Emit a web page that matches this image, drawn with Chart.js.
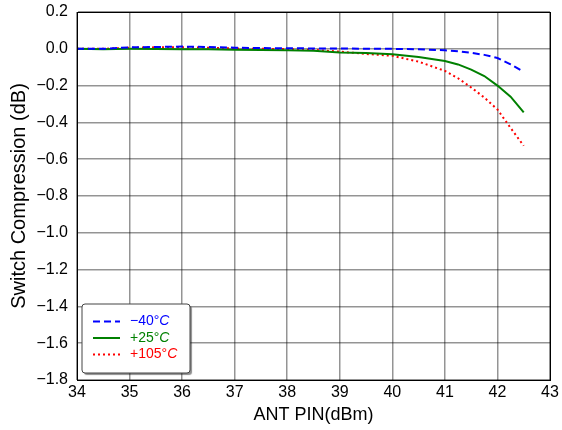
<!DOCTYPE html>
<html>
<head>
<meta charset="utf-8">
<script src="https://cdn.jsdelivr.net/npm/chart.js@4"></script>
<style>
  html, body { margin: 0; padding: 0; background: #fff; }
  #wrap { width: 562px; height: 430px; }
</style>
</head>
<body>
<div id="wrap"><canvas id="chart" width="562" height="430"></canvas></div>
<script>
// input power (dBm)
const pin = [34, 34.5, 35, 35.5, 36, 36.5, 37, 37.5, 38, 38.5, 39, 39.5, 40, 40.5, 41, 41.25, 41.5, 41.75, 42, 42.25, 42.5];
// compression (dB) per temperature
const compM40 = [0, 0, 0.008, 0.01, 0.012, 0.01, 0.006, 0.004, 0.003, 0.002, 0.002, 0, 0, -0.003, -0.008, -0.013, -0.022, -0.033, -0.05, -0.085, -0.125];
const comp25 = [0, -0.002, 0, -0.001, -0.002, -0.003, -0.005, -0.007, -0.008, -0.01, -0.02, -0.023, -0.03, -0.045, -0.066, -0.085, -0.113, -0.148, -0.2, -0.26, -0.345];
const comp105 = [0, 0, 0.006, 0.008, 0.008, 0.006, 0.002, 0, -0.002, -0.006, -0.015, -0.028, -0.038, -0.07, -0.12, -0.16, -0.21, -0.265, -0.33, -0.43, -0.527];
const seriesNames = ['\u221240\u00b0C', '+25\u00b0C', '+105\u00b0C'];
const xTicks = [34, 35, 36, 37, 38, 39, 40, 41, 42, 43];
const yTicks = [0.2, 0, -0.2, -0.4, -0.6, -0.8, -1.0, -1.2, -1.4, -1.6, -1.8];

const toPts = arr => arr.map((v, i) => ({ x: pin[i], y: v }));
const FONT = "'Liberation Sans', Arial, sans-serif";

// frame + legend box inside the plot
const boxLegend = {
  id: 'boxLegend',
  afterDraw(chart) {
    const { ctx, chartArea: a } = chart;
    ctx.save();
    ctx.strokeStyle = '#000';
    ctx.lineWidth = 1;
    ctx.strokeRect(a.left + 0.5, a.top + 0.5, a.right - a.left, a.bottom - a.top);

    const bx = 82, by = 304, bw = 108, bh = 69;
    ctx.shadowColor = 'rgba(0,0,0,0.45)';
    ctx.shadowOffsetX = 2;
    ctx.shadowOffsetY = 2;
    ctx.shadowBlur = 1;
    ctx.fillStyle = '#fff';
    ctx.beginPath();
    ctx.roundRect(bx, by, bw, bh, 3);
    ctx.fill();
    ctx.shadowColor = 'transparent';
    ctx.strokeStyle = '#444';
    ctx.lineWidth = 1;
    ctx.stroke();

    chart.data.datasets.forEach((ds, i) => {
      const y = by + 17.5 + i * 16.5;
      ctx.strokeStyle = ds.borderColor;
      ctx.lineWidth = ds.borderWidth;
      ctx.setLineDash(ds.borderDash || []);
      ctx.beginPath();
      ctx.moveTo(bx + 11, y);
      ctx.lineTo(bx + 38, y);
      ctx.stroke();
      ctx.setLineDash([]);
      ctx.fillStyle = ds.borderColor;
      ctx.font = '14px ' + FONT;
      ctx.textBaseline = 'middle';
      const t = ds.label;
      const head = t.slice(0, -1);
      ctx.fillText(head, bx + 48, y);
      const w = ctx.measureText(head).width;
      ctx.font = 'italic 14px ' + FONT;
      ctx.fillText('C', bx + 48 + w, y);
    });
    ctx.restore();
  }
};

new Chart(document.getElementById('chart'), {
  type: 'line',
  data: {
    datasets: [
      { label: seriesNames[0], data: toPts(compM40), borderColor: '#0000ff', borderWidth: 2, borderDash: [7, 4] },
      { label: seriesNames[1], data: toPts(comp25), borderColor: '#008000', borderWidth: 2 },
      { label: seriesNames[2], data: toPts(comp105), borderColor: '#ff0000', borderWidth: 2, borderDash: [2, 3] }
    ]
  },
  options: {
    responsive: false,
    animation: false,
    layout: { padding: { top: 12, right: 12, left: 0, bottom: 0 } },
    elements: { point: { radius: 0 }, line: { tension: 0 } },
    plugins: { legend: { display: false }, tooltip: { enabled: false } },
    scales: {
      x: {
        type: 'linear', min: 34, max: 43,
        afterBuildTicks: s => { s.ticks = xTicks.map(v => ({ value: v })); },
        afterFit: s => { s.height = 50; s.paddingLeft = 0; s.paddingRight = 0; },
        grid: { color: 'rgba(0,0,0,0.42)', lineWidth: 1.5, drawTicks: false },
        border: { color: '#000', width: 1 },
        ticks: { color: '#000', font: { family: FONT, size: 16 }, padding: 3 },
        title: { display: true, text: 'ANT PIN(dBm)', color: '#000', font: { family: FONT, size: 18 }, padding: { top: 0 } }
      },
      y: {
        min: -1.8, max: 0.2,
        afterBuildTicks: s => { s.ticks = yTicks.map(v => ({ value: v })); },
        afterFit: s => { s.width = 77; s.paddingTop = 0; s.paddingBottom = 0; },
        grid: { color: 'rgba(0,0,0,0.42)', lineWidth: 1.5, drawTicks: false },
        border: { color: '#000', width: 1 },
        ticks: {
          color: '#000', font: { family: FONT, size: 16 }, padding: 9,
          callback: v => v.toFixed(1).replace('-', '\u2212')
        },
        title: { display: true, text: 'Switch Compression (dB)', color: '#000', font: { family: FONT, size: 20 }, padding: { top: 7, bottom: 0 } }
      }
    }
  },
  plugins: [boxLegend]
});
</script>
</body>
</html>
